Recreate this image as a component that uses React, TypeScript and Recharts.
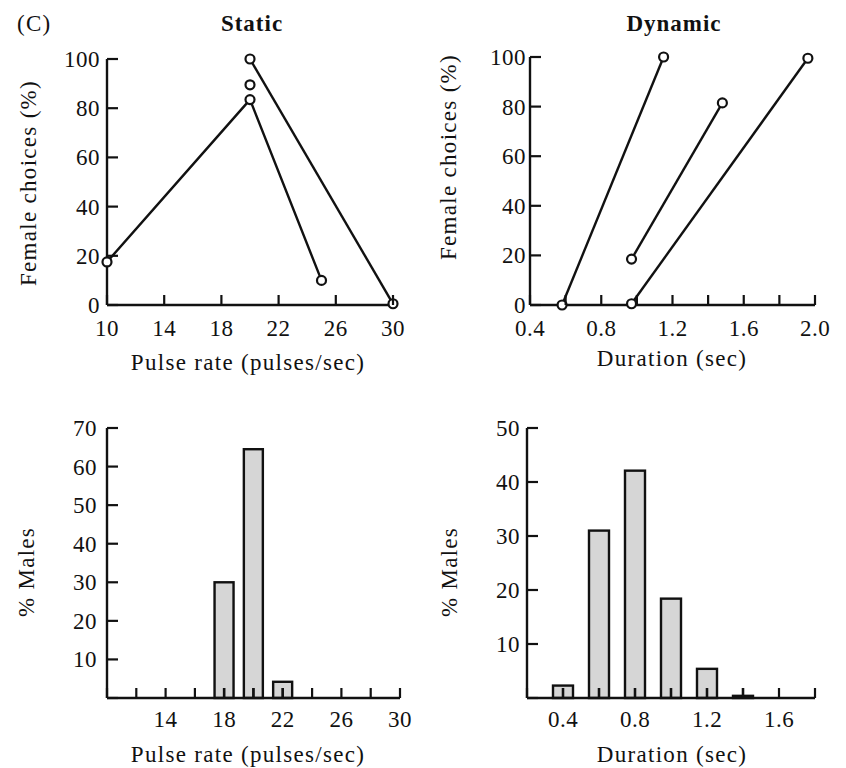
import React from "react";
import { ComposedChart, Line, Bar, XAxis, YAxis } from "recharts";

// ---- data ----
const staticRise = [
  { x: 10, y: 17.5 },
  { x: 20, y: 83.5 },
  { x: 25, y: 10 },
];
const staticLone = [{ x: 20, y: 89.5 }];
const staticFall = [
  { x: 20, y: 100 },
  { x: 30, y: 0.5 },
];

const dynamicA = [
  { x: 0.58, y: 0 },
  { x: 1.15, y: 100 },
];
const dynamicB = [
  { x: 0.97, y: 18.5 },
  { x: 1.48, y: 81.5 },
];
const dynamicC = [
  { x: 0.97, y: 0.5 },
  { x: 1.96, y: 99.5 },
];

const pulseBins = [18, 20, 22];
const pulseMales = [30, 64.5, 4.2];

const durationBins = [0.4, 0.6, 0.8, 1.0, 1.2, 1.4];
const durationMales = [2.3, 31, 42.1, 18.4, 5.4, 0.4];

const pulseTicksTop = [10, 14, 18, 22, 26, 30];
const pulseTicksBottom = [10, 12, 14, 16, 18, 20, 22, 24, 26, 28, 30];
const pulseLabelsBottom = [14, 18, 22, 26, 30];
const durTicksTop = [0.4, 0.6, 0.8, 1.0, 1.2, 1.4, 1.6, 1.8, 2.0];
const durLabelsTop = [0.4, 0.8, 1.2, 1.6, 2.0];
const durTicksBottom = [0.2, 0.4, 0.6, 0.8, 1.0, 1.2, 1.4, 1.6, 1.8];
const durLabelsBottom = [0.4, 0.8, 1.2, 1.6];
const choiceTicks = [0, 20, 40, 60, 80, 100];
const pulseMaleTicks = [0, 10, 20, 30, 40, 50, 60, 70];
const pulseMaleLabels = [10, 20, 30, 40, 50, 60, 70];
const durMaleTicks = [0, 10, 20, 30, 40, 50];
const durMaleLabels = [10, 20, 30, 40, 50];

const pulseData = pulseBins.map((x, i) => ({ x, v: pulseMales[i] }));
const durationData = durationBins.map((x, i) => ({ x, v: durationMales[i] }));

const FONT = "'Liberation Serif', 'Times New Roman', serif";
const INK = "#111";
const PAD_L = 70;
const PAD_T = 12;
const PAD_R = 20;
const PAD_B = 50;
const TICK = 10;

const has = (list: number[], v: number) => list.some((l) => Math.abs(l - v) < 1e-6);

const xTick =
  (labels: number[], fmt: (v: number) => string, drop = 30) =>
  (props: any) => {
    const { x, y, payload } = props;
    const v = payload.value;
    return (
      <g>
        <line x1={x} x2={x} y1={y} y2={y - TICK} stroke={INK} strokeWidth={2.2} />
        {has(labels, v) && (
          <text x={x} y={y + drop} textAnchor="middle" fontFamily={FONT} fontSize={23} letterSpacing={0.5} fill={INK}>
            {fmt(v)}
          </text>
        )}
      </g>
    );
  };

const yTick = (labels: number[], gap = 6) => (props: any) => {
  const { x, y, payload } = props;
  const v = payload.value;
  return (
    <g>
      <line x1={x} x2={x + 11} y1={y} y2={y} stroke={INK} strokeWidth={2.2} />
      {has(labels, v) && (
        <text x={x - gap} y={y + 8} textAnchor="end" fontFamily={FONT} fontSize={23} letterSpacing={0.5} fill={INK}>
          {v}
        </text>
      )}
    </g>
  );
};

// bar outline plus the inward axis tick, which the original shows through the grey fill
const histBar = (props: any) => {
  const { x, y, width, height } = props;
  const base = y + height;
  const mid = x + width / 2;
  return (
    <g>
      <rect x={x} y={y} width={width} height={height} fill="#d6d6d6" stroke={INK} strokeWidth={2.4} />
      <line x1={mid} x2={mid} y1={base} y2={base - TICK} stroke={INK} strokeWidth={2.4} />
    </g>
  );
};

const dot = { r: 4.5, stroke: INK, strokeWidth: 2.2, fill: "#fff" };
const axisLine = { stroke: INK, strokeWidth: 2.4 };

type Box = [number, number, number, number];

const frame = ([x0, y0]: Box): React.CSSProperties => ({
  position: "absolute",
  left: x0 - PAD_L,
  top: y0 - PAD_T,
});

const size = ([x0, y0, x1, y1]: Box) => ({
  width: x1 - x0 + PAD_L + PAD_R,
  height: y1 - y0 + PAD_T + PAD_B,
});

const margin = { top: PAD_T, right: PAD_R, bottom: 0, left: 0 };

const TL: Box = [107, 59, 393, 305];
const TR: Box = [530, 57, 815, 305];
const BL: Box = [107, 428, 400, 698];
const BR: Box = [527, 428, 815, 698];

const int = (v: number) => String(v);
const dec = (v: number) => v.toFixed(1);

const lineSeries = (sets: { x: number; y: number }[][], prefix: string) =>
  sets.map((d, i) => (
    <Line
      key={prefix + i}
      data={d}
      dataKey="y"
      stroke={INK}
      strokeWidth={2.4}
      dot={dot}
      activeDot={false}
      isAnimationActive={false}
    />
  ));

export default function App() {
  return (
    <div style={{ position: "absolute", left: 0, top: 0, width: 846, height: 768, background: "#fff" }}>
      {/* Static: female choice vs pulse rate */}
      <div style={frame(TL)}>
        <ComposedChart {...size(TL)} margin={margin}>
          <XAxis
            type="number"
            dataKey="x"
            domain={[10, 30]}
            ticks={pulseTicksTop}
            interval={0}
            height={PAD_B}
            axisLine={axisLine}
            tickLine={false}
            tickSize={0}
            tickMargin={0}
            tick={xTick(pulseTicksTop, int, 31)}
          />
          <YAxis
            type="number"
            domain={[0, 100]}
            ticks={choiceTicks}
            interval={0}
            width={PAD_L}
            axisLine={axisLine}
            tickLine={false}
            tickSize={0}
            tickMargin={0}
            tick={yTick(choiceTicks, 7)}
          />
          {lineSeries([staticRise, staticFall, staticLone], "s")}
        </ComposedChart>
      </div>

      {/* Dynamic: female choice vs duration */}
      <div style={frame(TR)}>
        <ComposedChart {...size(TR)} margin={margin}>
          <XAxis
            type="number"
            dataKey="x"
            domain={[0.4, 2.0]}
            ticks={durTicksTop}
            interval={0}
            height={PAD_B}
            axisLine={axisLine}
            tickLine={false}
            tickSize={0}
            tickMargin={0}
            tick={xTick(durLabelsTop, dec, 31)}
          />
          <YAxis
            type="number"
            domain={[0, 100]}
            ticks={choiceTicks}
            interval={0}
            width={PAD_L}
            axisLine={axisLine}
            tickLine={false}
            tickSize={0}
            tickMargin={0}
            tick={yTick(choiceTicks, 4)}
          />
          {lineSeries([dynamicA, dynamicB, dynamicC], "d")}
        </ComposedChart>
      </div>

      {/* % males by pulse rate */}
      <div style={frame(BL)}>
        <ComposedChart {...size(BL)} data={pulseData} margin={margin}>
          <XAxis
            type="number"
            dataKey="x"
            domain={[10, 30]}
            ticks={pulseTicksBottom}
            interval={0}
            height={PAD_B}
            axisLine={axisLine}
            tickLine={false}
            tickSize={0}
            tickMargin={0}
            tick={xTick(pulseLabelsBottom, int, 29)}
          />
          <YAxis
            type="number"
            domain={[0, 70]}
            ticks={pulseMaleTicks}
            interval={0}
            width={PAD_L}
            axisLine={axisLine}
            tickLine={false}
            tickSize={0}
            tickMargin={0}
            tick={yTick(pulseMaleLabels, 10)}
          />
          <Bar dataKey="v" barSize={19} shape={histBar} isAnimationActive={false} />
        </ComposedChart>
      </div>

      {/* % males by duration */}
      <div style={frame(BR)}>
        <ComposedChart {...size(BR)} data={durationData} margin={margin}>
          <XAxis
            type="number"
            dataKey="x"
            domain={[0.2, 1.8]}
            ticks={durTicksBottom}
            interval={0}
            height={PAD_B}
            axisLine={axisLine}
            tickLine={false}
            tickSize={0}
            tickMargin={0}
            tick={xTick(durLabelsBottom, dec, 29)}
          />
          <YAxis
            type="number"
            domain={[0, 50]}
            ticks={durMaleTicks}
            interval={0}
            width={PAD_L}
            axisLine={axisLine}
            tickLine={false}
            tickSize={0}
            tickMargin={0}
            tick={yTick(durMaleLabels, 7)}
          />
          <Bar dataKey="v" barSize={20} shape={histBar} isAnimationActive={false} />
        </ComposedChart>
      </div>

      {/* titles and axis names */}
      <svg width={846} height={768} style={{ position: "absolute", left: 0, top: 0, pointerEvents: "none" }}>
        <g fontFamily={FONT} fontSize={23} fill={INK} letterSpacing={1.3}>
          <text x={17} y={31}>(C)</text>
          <text x={252} y={31} textAnchor="middle" fontWeight="bold" letterSpacing={1}>Static</text>
          <text x={674} y={31} textAnchor="middle" fontWeight="bold" letterSpacing={1}>Dynamic</text>
          <text x={248} y={370} textAnchor="middle">Pulse rate (pulses/sec)</text>
          <text x={672} y={366} textAnchor="middle">Duration (sec)</text>
          <text x={248} y={762} textAnchor="middle">Pulse rate (pulses/sec)</text>
          <text x={672} y={762} textAnchor="middle">Duration (sec)</text>
          <text transform="translate(36,183) rotate(-90)" textAnchor="middle">Female choices (%)</text>
          <text transform="translate(456,157) rotate(-90)" textAnchor="middle">Female choices (%)</text>
          <text transform="translate(34,572) rotate(-90)" textAnchor="middle">% Males</text>
          <text transform="translate(457,572) rotate(-90)" textAnchor="middle">% Males</text>
        </g>
      </svg>
    </div>
  );
}
